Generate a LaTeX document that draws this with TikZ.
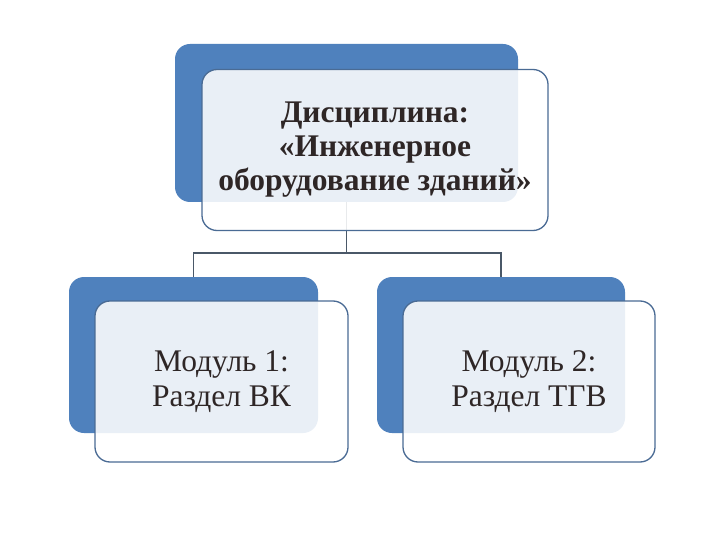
\documentclass[tikz,border=0pt]{standalone}
\usepackage{fontspec}
\setmainfont{Liberation Serif}
\definecolor{backblue}{HTML}{4F81BD}
\definecolor{frontedge}{HTML}{4A6B94}
\definecolor{linkcol}{HTML}{4A5868}
\definecolor{txtcol}{HTML}{2E2626}
\begin{document}
\begin{tikzpicture}[x=1pt,y=-1pt,
  backbox/.style={fill=backblue, draw=none, rounded corners=15pt, inner sep=0pt},
  frontbox/.style={fill=white, fill opacity=0.88, text opacity=1, draw=frontedge, line width=1.3pt, rounded corners=15pt, inner sep=0pt, align=center, text=txtcol, font=\fontsize{31.5}{35}\selectfont},
  link/.style={draw=linkcol, line width=1.4pt}]
\useasboundingbox (0,0) rectangle (720,540);
\fill[white] (0,0) rectangle (720,540);
% back boxes
\node[backbox, minimum width=343pt, minimum height=158pt] (topback) at (346.5,123) {};
\node[backbox, minimum width=249pt, minimum height=156pt] (leftback) at (193.5,355) {};
\node[backbox, minimum width=248pt, minimum height=156pt] (rightback) at (501,355) {};
% connectors
\coordinate (bus) at (0,253);
\draw[link] (topback.south) -- (topback.south |- bus) -| (leftback.north);
\draw[link] (topback.south |- bus) -| (rightback.north);
% front boxes
\node[frontbox, minimum width=346pt, minimum height=161pt, font=\bfseries\fontsize{31.5}{34}\selectfont] (topfront) at (375,150) {Дисциплина:\\«Инженерное\\оборудование зданий»};
\node[frontbox, minimum width=253pt, minimum height=161pt] (leftfront) at (221.5,381.5) {Модуль 1:\\Раздел ВК};
\node[frontbox, minimum width=252pt, minimum height=161pt] (rightfront) at (529,381.5) {Модуль 2:\\Раздел ТГВ};
\end{tikzpicture}
\end{document}
